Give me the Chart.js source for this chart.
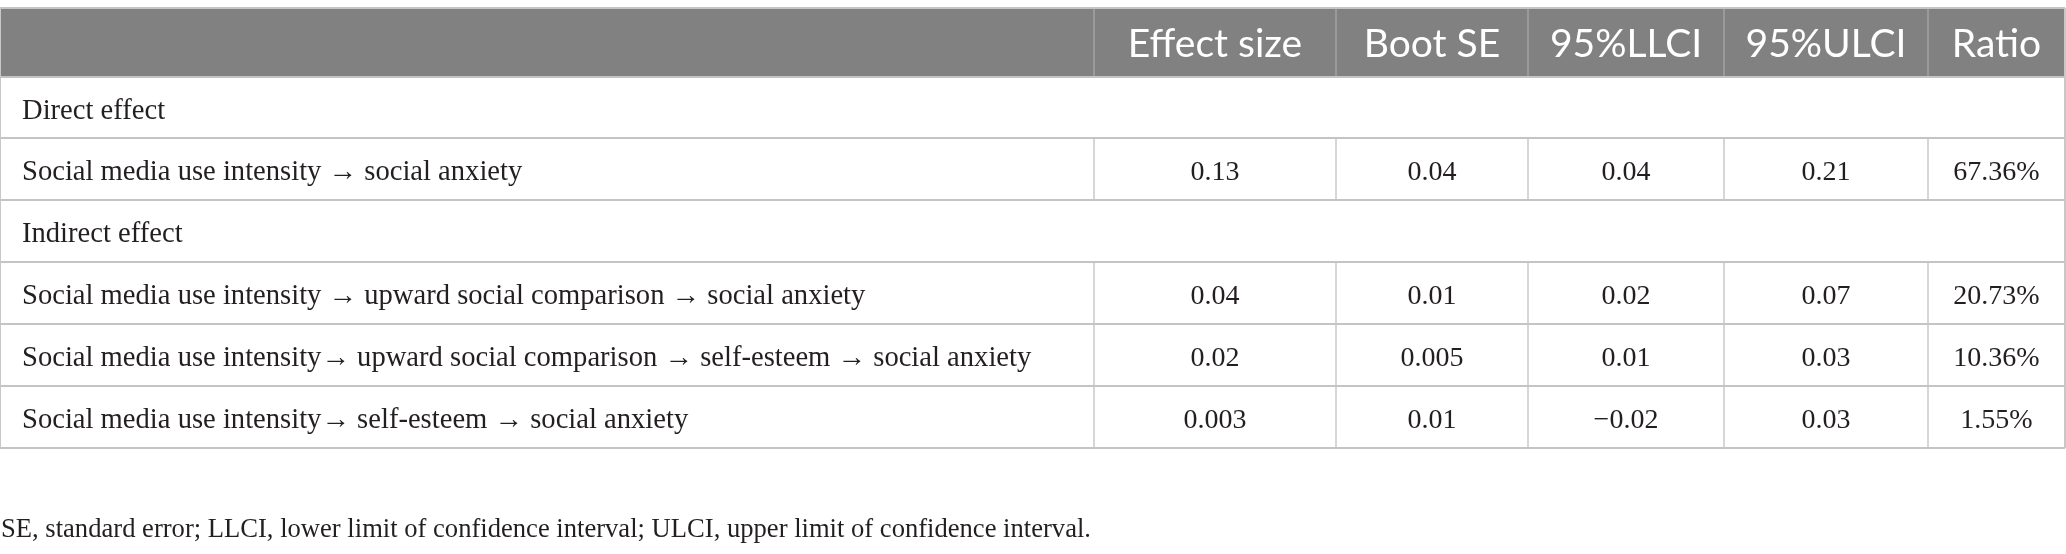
<!DOCTYPE html>
<html>
<head>
<meta charset="utf-8">
<script src="https://cdn.jsdelivr.net/npm/chart.js@4.4.1/dist/chart.umd.min.js"></script>
<style>
  html, body { margin: 0; padding: 0; background: #fff; }
  #wrap { width: 2066px; height: 554px; }
</style>
</head>
<body>
<div id="wrap"><canvas id="canvas" width="2066" height="554"></canvas></div>
<script>
// table content
const headers = ['Effect size', 'Boot SE', '95%LLCI', '95%ULCI', 'Ratio'];
const sections = ['Direct effect', 'Indirect effect'];
const paths = [
    'Social media use intensity \u2192 social anxiety',
    'Social media use intensity \u2192 upward social comparison \u2192 social anxiety',
    'Social media use intensity\u2192 upward social comparison \u2192 self-esteem \u2192 social anxiety',
    'Social media use intensity\u2192 self-esteem \u2192 social anxiety'
];
const effectSize = [0.13, 0.04, 0.02, 0.003];
const bootSE = [0.04, 0.01, 0.005, 0.01];
const llci = [0.04, 0.02, 0.01, -0.02];
const ulci = [0.21, 0.07, 0.03, 0.03];
const ratio = [67.36, 20.73, 10.36, 1.55];
const note = 'SE, standard error; LLCI, lower limit of confidence interval; ULCI, upper limit of confidence interval.';

// layout (scale units = px of the 2066x554 frame)
const colEdges = [0, 1094, 1336, 1528, 1724, 1928, 2065];
const rowEdges = [8, 77, 138, 200, 262, 324, 386, 448];
const sectionRows = [1, 3];
const pathRows = [2, 4, 5, 6];

const serif = '"Liberation Serif", "DejaVu Serif", serif';
const sans = 'Lato, "Open Sans", sans-serif';
const bodySize = 28;
const labelSize = 28.6;

function fmt(v) {
    return String(v).replace('-', '\u2212');
}

const columns = [effectSize, bootSE, llci, ulci, ratio];
const suffix = ['', '', '', '', '%'];

const datasets = columns.map(function(vals, c) {
    return {
        label: headers[c],
        data: vals.map(function(v, i) {
            return {
                x: (colEdges[c + 1] + colEdges[c + 2]) / 2,
                y: rowEdges[pathRows[i]],
                text: fmt(v) + suffix[c]
            };
        }),
        pointRadius: 0,
        showLine: false
    };
});

const tablePlugin = {
    id: 'table',
    beforeDatasetsDraw: function(chart) {
        const ctx = chart.ctx;
        const sx = chart.scales.x, sy = chart.scales.y;
        const X = function(v) { return sx.getPixelForValue(v); };
        const Y = function(v) { return sy.getPixelForValue(v); };
        const left = X(colEdges[0]);
        const right = X(colEdges[colEdges.length - 1]);
        const top = Y(rowEdges[0]);
        const bottom = Y(rowEdges[rowEdges.length - 1]);

        ctx.save();
        // header band
        ctx.fillStyle = '#808180';
        ctx.fillRect(left, top, right - left, Y(rowEdges[1]) - top);

        // vertical rules in header
        ctx.strokeStyle = '#a2a3a2';
        ctx.lineWidth = 1.5;
        for (let c = 1; c < colEdges.length - 1; c++) {
            ctx.beginPath();
            ctx.moveTo(X(colEdges[c]), top);
            ctx.lineTo(X(colEdges[c]), Y(rowEdges[1]));
            ctx.stroke();
        }

        // vertical rules in value rows
        ctx.strokeStyle = '#c8c8c8';
        pathRows.forEach(function(r) {
            for (let c = 1; c < colEdges.length - 1; c++) {
                ctx.beginPath();
                ctx.moveTo(X(colEdges[c]), Y(rowEdges[r]));
                ctx.lineTo(X(colEdges[c]), Y(rowEdges[r + 1]));
                ctx.stroke();
            }
        });

        // outer frame sides
        ctx.lineWidth = 2;
        [left, right].forEach(function(px) {
            ctx.beginPath();
            ctx.moveTo(px, top);
            ctx.lineTo(px, bottom);
            ctx.stroke();
        });

        // horizontal rules
        ctx.strokeStyle = '#c4c4c4';
        rowEdges.forEach(function(r) {
            ctx.beginPath();
            ctx.moveTo(left, Y(r));
            ctx.lineTo(right, Y(r));
            ctx.stroke();
        });

        // header labels
        ctx.fillStyle = '#ffffff';
        ctx.font = '39px ' + sans;
        ctx.textAlign = 'center';
        ctx.textBaseline = 'alphabetic';
        headers.forEach(function(h, c) {
            ctx.fillText(h, (X(colEdges[c + 1]) + X(colEdges[c + 2])) / 2, Y(rowEdges[0]) + 49);
        });

        // section and path labels
        ctx.fillStyle = '#231f20';
        ctx.textAlign = 'left';
        ctx.font = labelSize + 'px ' + serif;
        sectionRows.forEach(function(r, i) {
            ctx.fillText(sections[i], left + 22, Y(rowEdges[r]) + 42);
        });
        pathRows.forEach(function(r, i) {
            ctx.fillText(paths[i], left + 22, Y(rowEdges[r]) + 42);
        });

        // footnote
        ctx.font = '26.6px ' + serif;
        ctx.fillText(note, left + 1, Y(537));
        ctx.restore();
    },
    afterDatasetsDraw: function(chart) {
        const ctx = chart.ctx;
        ctx.save();
        ctx.fillStyle = '#231f20';
        ctx.font = bodySize + 'px ' + serif;
        ctx.textAlign = 'center';
        ctx.textBaseline = 'alphabetic';
        chart.data.datasets.forEach(function(ds, d) {
            chart.getDatasetMeta(d).data.forEach(function(pt, i) {
                ctx.fillText(ds.data[i].text, pt.x, pt.y + 42);
            });
        });
        ctx.restore();
    }
};

const ctx = document.getElementById('canvas').getContext('2d');
const myChart = new Chart(ctx, {
    type: 'scatter',
    data: { datasets: datasets },
    options: {
        responsive: false,
        animation: false,
        devicePixelRatio: 1,
        events: [],
        layout: { padding: 0 },
        scales: {
            x: { type: 'linear', min: 0, max: 2066, display: false },
            y: { type: 'linear', min: 0, max: 554, reverse: true, display: false }
        },
        plugins: {
            legend: { display: false },
            tooltip: { enabled: false }
        }
    },
    plugins: [tablePlugin]
});
</script>
</body>
</html>
